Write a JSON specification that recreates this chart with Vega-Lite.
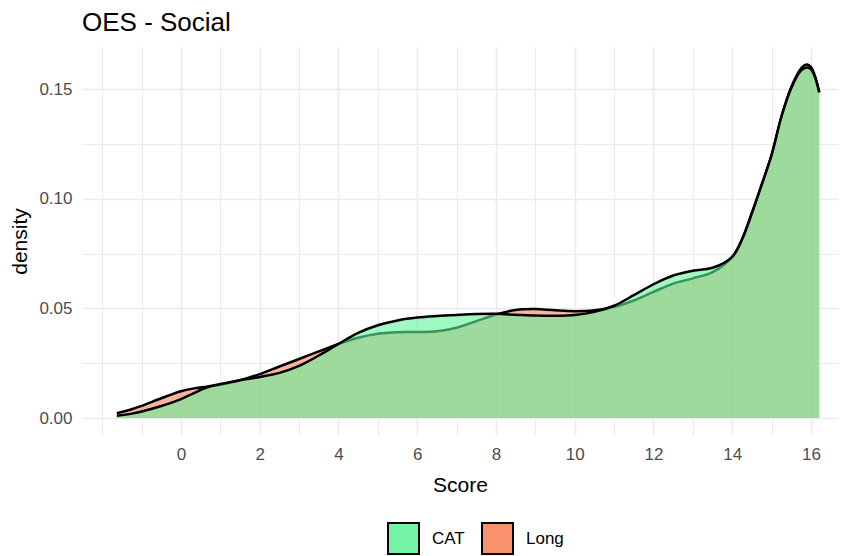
{
  "$schema": "https://vega.github.io/schema/vega-lite/v6.json",
  "autosize": {"type": "none"},
  "width": 756,
  "height": 388,
  "padding": {"left": 82, "top": 47, "right": 6, "bottom": 121},
  "background": "white",
  "config": {
    "view": {"stroke": null},
    "font": "Liberation Sans"
  },
  "title": {
    "text": "OES - Social",
    "anchor": "start",
    "frame": "group",
    "fontSize": 26,
    "fontWeight": "normal",
    "color": "black",
    "font": "Liberation Sans",
    "baseline": "alphabetic",
    "offset": 16,
    "dy": 26
  },
  "data": {
    "values": [
      {"score": -1.63, "density": 0.0022, "group": "Long"},
      {"score": -1.25, "density": 0.0040, "group": "Long"},
      {"score": -1.0, "density": 0.0055, "group": "Long"},
      {"score": -0.5, "density": 0.0090, "group": "Long"},
      {"score": 0.0, "density": 0.0122, "group": "Long"},
      {"score": 0.3, "density": 0.0134, "group": "Long"},
      {"score": 0.65, "density": 0.0143, "group": "Long"},
      {"score": 1.0, "density": 0.0152, "group": "Long"},
      {"score": 1.5, "density": 0.0172, "group": "Long"},
      {"score": 2.0, "density": 0.0200, "group": "Long"},
      {"score": 2.5, "density": 0.0235, "group": "Long"},
      {"score": 3.0, "density": 0.0269, "group": "Long"},
      {"score": 3.5, "density": 0.0304, "group": "Long"},
      {"score": 4.0, "density": 0.0338, "group": "Long"},
      {"score": 4.5, "density": 0.0366, "group": "Long"},
      {"score": 5.0, "density": 0.0384, "group": "Long"},
      {"score": 5.5, "density": 0.0391, "group": "Long"},
      {"score": 6.0, "density": 0.0392, "group": "Long"},
      {"score": 6.5, "density": 0.0396, "group": "Long"},
      {"score": 7.0, "density": 0.0412, "group": "Long"},
      {"score": 7.5, "density": 0.0442, "group": "Long"},
      {"score": 8.0, "density": 0.0472, "group": "Long"},
      {"score": 8.5, "density": 0.0493, "group": "Long"},
      {"score": 9.0, "density": 0.0497, "group": "Long"},
      {"score": 9.5, "density": 0.0491, "group": "Long"},
      {"score": 10.0, "density": 0.0487, "group": "Long"},
      {"score": 10.5, "density": 0.0491, "group": "Long"},
      {"score": 11.0, "density": 0.0507, "group": "Long"},
      {"score": 11.5, "density": 0.0536, "group": "Long"},
      {"score": 12.0, "density": 0.0575, "group": "Long"},
      {"score": 12.5, "density": 0.0613, "group": "Long"},
      {"score": 13.0, "density": 0.0637, "group": "Long"},
      {"score": 13.5, "density": 0.0665, "group": "Long"},
      {"score": 14.0, "density": 0.0735, "group": "Long"},
      {"score": 14.25, "density": 0.0815, "group": "Long"},
      {"score": 14.5, "density": 0.0935, "group": "Long"},
      {"score": 14.75, "density": 0.1065, "group": "Long"},
      {"score": 15.0, "density": 0.1200, "group": "Long"},
      {"score": 15.25, "density": 0.1375, "group": "Long"},
      {"score": 15.5, "density": 0.1510, "group": "Long"},
      {"score": 15.75, "density": 0.1595, "group": "Long"},
      {"score": 15.9, "density": 0.1612, "group": "Long"},
      {"score": 16.0, "density": 0.1600, "group": "Long"},
      {"score": 16.1, "density": 0.1560, "group": "Long"},
      {"score": 16.21, "density": 0.1485, "group": "Long"},
      {"score": -1.63, "density": 0.0010, "group": "CAT"},
      {"score": -1.25, "density": 0.0020, "group": "CAT"},
      {"score": -1.0, "density": 0.0030, "group": "CAT"},
      {"score": -0.5, "density": 0.0055, "group": "CAT"},
      {"score": 0.0, "density": 0.0086, "group": "CAT"},
      {"score": 0.3, "density": 0.0111, "group": "CAT"},
      {"score": 0.65, "density": 0.0139, "group": "CAT"},
      {"score": 1.0, "density": 0.0155, "group": "CAT"},
      {"score": 1.5, "density": 0.0172, "group": "CAT"},
      {"score": 2.0, "density": 0.0187, "group": "CAT"},
      {"score": 2.5, "density": 0.0206, "group": "CAT"},
      {"score": 3.0, "density": 0.0238, "group": "CAT"},
      {"score": 3.5, "density": 0.0285, "group": "CAT"},
      {"score": 4.0, "density": 0.0338, "group": "CAT"},
      {"score": 4.5, "density": 0.0388, "group": "CAT"},
      {"score": 5.0, "density": 0.0423, "group": "CAT"},
      {"score": 5.5, "density": 0.0445, "group": "CAT"},
      {"score": 6.0, "density": 0.0458, "group": "CAT"},
      {"score": 6.5, "density": 0.0465, "group": "CAT"},
      {"score": 7.0, "density": 0.0470, "group": "CAT"},
      {"score": 7.5, "density": 0.0474, "group": "CAT"},
      {"score": 8.0, "density": 0.0475, "group": "CAT"},
      {"score": 8.5, "density": 0.0471, "group": "CAT"},
      {"score": 9.0, "density": 0.0467, "group": "CAT"},
      {"score": 9.5, "density": 0.0466, "group": "CAT"},
      {"score": 10.0, "density": 0.0470, "group": "CAT"},
      {"score": 10.5, "density": 0.0484, "group": "CAT"},
      {"score": 11.0, "density": 0.0512, "group": "CAT"},
      {"score": 11.5, "density": 0.0560, "group": "CAT"},
      {"score": 12.0, "density": 0.0610, "group": "CAT"},
      {"score": 12.5, "density": 0.0650, "group": "CAT"},
      {"score": 13.0, "density": 0.0672, "group": "CAT"},
      {"score": 13.5, "density": 0.0685, "group": "CAT"},
      {"score": 14.0, "density": 0.0735, "group": "CAT"},
      {"score": 14.25, "density": 0.0815, "group": "CAT"},
      {"score": 14.5, "density": 0.0935, "group": "CAT"},
      {"score": 14.75, "density": 0.1065, "group": "CAT"},
      {"score": 15.0, "density": 0.1200, "group": "CAT"},
      {"score": 15.25, "density": 0.1375, "group": "CAT"},
      {"score": 15.5, "density": 0.1505, "group": "CAT"},
      {"score": 15.75, "density": 0.1585, "group": "CAT"},
      {"score": 15.9, "density": 0.1598, "group": "CAT"},
      {"score": 16.0, "density": 0.1590, "group": "CAT"},
      {"score": 16.1, "density": 0.1555, "group": "CAT"},
      {"score": 16.21, "density": 0.1485, "group": "CAT"}
    ]
  },
  "encoding": {
    "x": {
      "field": "score",
      "type": "quantitative",
      "title": "Score",
      "scale": {"domain": [-2.514, 16.686], "nice": false, "zero": false},
      "axis": {
        "values": [-2, -1, 0, 1, 2, 3, 4, 5, 6, 7, 8, 9, 10, 11, 12, 13, 14, 15, 16],
        "labelExpr": "(datum.value % 2 === 0 && datum.value >= 0) ? datum.label : ''",
        "domain": false,
        "ticks": false,
        "grid": true,
        "gridColor": "#EBEBEB",
        "gridWidth": {"condition": {"test": "datum.value % 2 === 0 && datum.value >= 0", "value": 1.6}, "value": 1},
        "labelFontSize": 17,
        "labelColor": "#4D4D4D",
        "labelFont": "Liberation Sans",
        "labelPadding": 11,
        "labelFlush": false,
        "titleFontSize": 21,
        "titleFontWeight": "normal",
        "titleColor": "black",
        "titleFont": "Liberation Sans",
        "titlePadding": 12
      }
    },
    "y": {
      "field": "density",
      "type": "quantitative",
      "title": "density",
      "scale": {"domain": [-0.00775, 0.1692], "nice": false, "zero": false},
      "axis": {
        "values": [0, 0.025, 0.05, 0.075, 0.1, 0.125, 0.15],
        "labelExpr": "(round(datum.value * 1000) % 50 === 0) ? format(datum.value, '.2f') : ''",
        "domain": false,
        "ticks": false,
        "grid": true,
        "gridColor": "#EBEBEB",
        "gridWidth": {"condition": {"test": "round(datum.value * 1000) % 50 === 0", "value": 1.6}, "value": 1},
        "labelFontSize": 17,
        "labelColor": "#4D4D4D",
        "labelFont": "Liberation Sans",
        "labelPadding": 10,
        "labelFlush": false,
        "titleFontSize": 21,
        "titleFontWeight": "normal",
        "titleColor": "black",
        "titleFont": "Liberation Sans",
        "titlePadding": 8
      }
    }
  },
  "layer": [
    {
      "transform": [{"filter": "datum.group === 'Long'"}],
      "mark": {"type": "area", "interpolate": "catmull-rom", "fillOpacity": 0.6},
      "encoding": {
        "y2": {"datum": 0},
        "fill": {
          "field": "group",
          "type": "nominal",
          "scale": {"domain": ["CAT", "Long"], "range": ["#61F39B", "#F78258"]},
          "legend": {
            "title": null,
            "orient": "none",
            "direction": "horizontal",
            "legendX": 305,
            "legendY": 475,
            "symbolType": "square",
            "symbolSize": 961,
            "symbolStrokeWidth": 2,
            "symbolStrokeColor": "black",
            "symbolOpacity": 0.85,
            "labelFontSize": 17,
            "labelColor": "black",
            "labelFont": "Liberation Sans",
            "labelOffset": 12,
            "columnPadding": 13,
            "encode": {"symbols": {"update": {"stroke": {"value": "black"}, "strokeWidth": {"value": 2}, "opacity": {"value": 1}, "fillOpacity": {"value": 0.88}}}}
          }
        }
      }
    },
    {
      "transform": [{"filter": "datum.group === 'Long'"}],
      "mark": {"type": "line", "interpolate": "catmull-rom", "color": "black", "strokeWidth": 2.5},
      "encoding": {}
    },
    {
      "transform": [{"filter": "datum.group === 'CAT'"}],
      "mark": {"type": "area", "interpolate": "catmull-rom", "fillOpacity": 0.6},
      "encoding": {
        "y2": {"datum": 0},
        "fill": {"field": "group", "type": "nominal"}
      }
    },
    {
      "transform": [{"filter": "datum.group === 'CAT'"}],
      "mark": {"type": "line", "interpolate": "catmull-rom", "color": "black", "strokeWidth": 2.5},
      "encoding": {}
    }
  ]
}
